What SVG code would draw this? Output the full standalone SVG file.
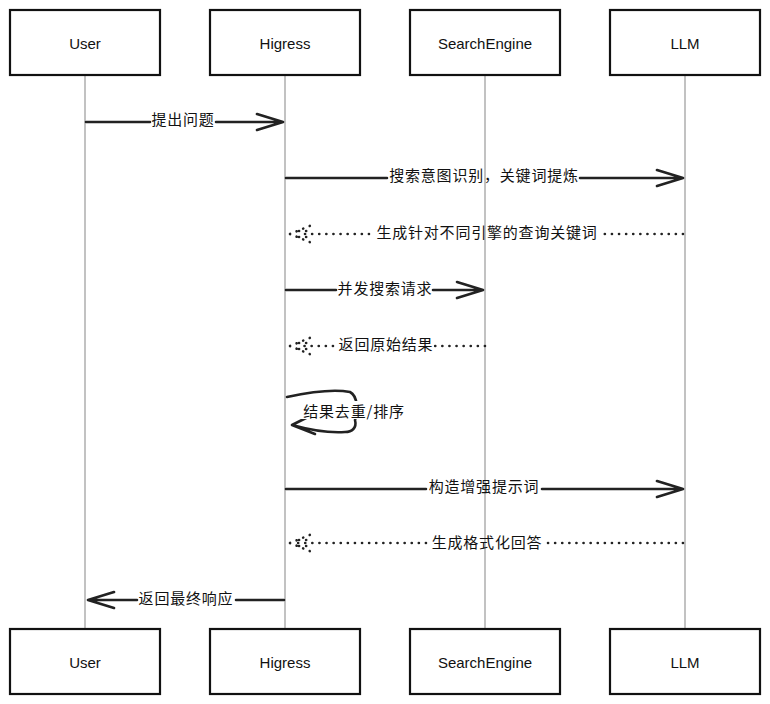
<svg xmlns="http://www.w3.org/2000/svg" width="770" height="704" viewBox="0 0 770 704">
<style>
.box{fill:#fff;stroke:#111;stroke-width:2.2}
.pl{font-family:"Liberation Sans","Noto Sans",sans-serif;font-size:15px;fill:#111;text-anchor:middle;dominant-baseline:central}
.life{stroke:#999;stroke-width:1.2;fill:none}
.msg{stroke:#222;stroke-width:2.6;fill:none;stroke-linecap:round;stroke-linejoin:round}
.dot{stroke:#222;stroke-width:2.6;fill:none;stroke-linecap:round;stroke-dasharray:0.1 7}
.lbl{font-family:"Noto Sans CJK SC","Noto Sans",sans-serif;font-size:15px;letter-spacing:0.8px;fill:#111;text-anchor:middle;dominant-baseline:central}
</style>
<rect width="770" height="704" fill="#fff"/>
<g id="lifelines">
<line class="life" x1="85" y1="75" x2="85" y2="629"/>
<line class="life" x1="285" y1="75" x2="285" y2="629"/>
<line class="life" x1="485" y1="75" x2="485" y2="629"/>
<line class="life" x1="685" y1="75" x2="685" y2="629"/>
</g>
<g id="user-top"><rect class="box" x="10" y="10" width="150" height="65"/><text class="pl" x="85" y="43">User</text></g>
<g id="higress-top"><rect class="box" x="210" y="10" width="150" height="65"/><text class="pl" x="285" y="43">Higress</text></g>
<g id="search-top"><rect class="box" x="410" y="10" width="150" height="65"/><text class="pl" x="485" y="43">SearchEngine</text></g>
<g id="llm-top"><rect class="box" x="610" y="10" width="150" height="65"/><text class="pl" x="685" y="43">LLM</text></g>
<g id="user-bottom"><rect class="box" x="10" y="629" width="150" height="65"/><text class="pl" x="85" y="662">User</text></g>
<g id="higress-bottom"><rect class="box" x="210" y="629" width="150" height="65"/><text class="pl" x="285" y="662">Higress</text></g>
<g id="search-bottom"><rect class="box" x="410" y="629" width="150" height="65"/><text class="pl" x="485" y="662">SearchEngine</text></g>
<g id="llm-bottom"><rect class="box" x="610" y="629" width="150" height="65"/><text class="pl" x="685" y="662">LLM</text></g>
<g id="connectors">
<path class="msg" d="M86 122H150M216 122H282M257 114L283 122L257 130"/>
<path class="msg" d="M286 178H387M580 178H682M657 170L683 178L657 186"/>
<path class="dot" d="M683 234H603M369 234H298"/>
<path class="dot" d="M290 234L312 225M290 234L312 243M299 231L310 231M299 237L310 237"/>
<path class="msg" d="M286 290H336M433 290H482M457 282L483 290L457 298"/>
<path class="dot" d="M485 346H433M333 346H298"/>
<path class="dot" d="M290 346L312 337M290 346L312 355M299 343L310 343M299 349L310 349"/>
<path class="msg" d="M287 397C310 392 335 389 350 392C358 396 358 412 355 420C357 428 352 432 345 432C330 433 310 430 292 425M314 414L292 425L315 434"/>
<path class="msg" d="M286 489H426M542 489H682M657 481L683 489L657 497"/>
<path class="dot" d="M683 543H548M426 543H298"/>
<path class="dot" d="M290 543L312 534M290 543L312 552M299 540L310 540M299 546L310 546"/>
<path class="msg" d="M284 600H236M137 600H89M114 592L88 600L114 608"/>
</g>
<g id="labels">
<rect x="301" y="401" width="106" height="18" fill="#fff"/>
<text class="lbl" x="183" y="118">提出问题</text>
<text class="lbl" x="484" y="174">搜索意图识别，关键词提炼</text>
<text class="lbl" x="487" y="231">生成针对不同引擎的查询关键词</text>
<text class="lbl" x="385" y="287">并发搜索请求</text>
<text class="lbl" x="386" y="343">返回原始结果</text>
<text class="lbl" x="354" y="410">结果去重/排序</text>
<text class="lbl" x="484" y="485">构造增强提示词</text>
<text class="lbl" x="487" y="541">生成格式化回答</text>
<text class="lbl" x="186" y="597">返回最终响应</text>
</g>
</svg>
